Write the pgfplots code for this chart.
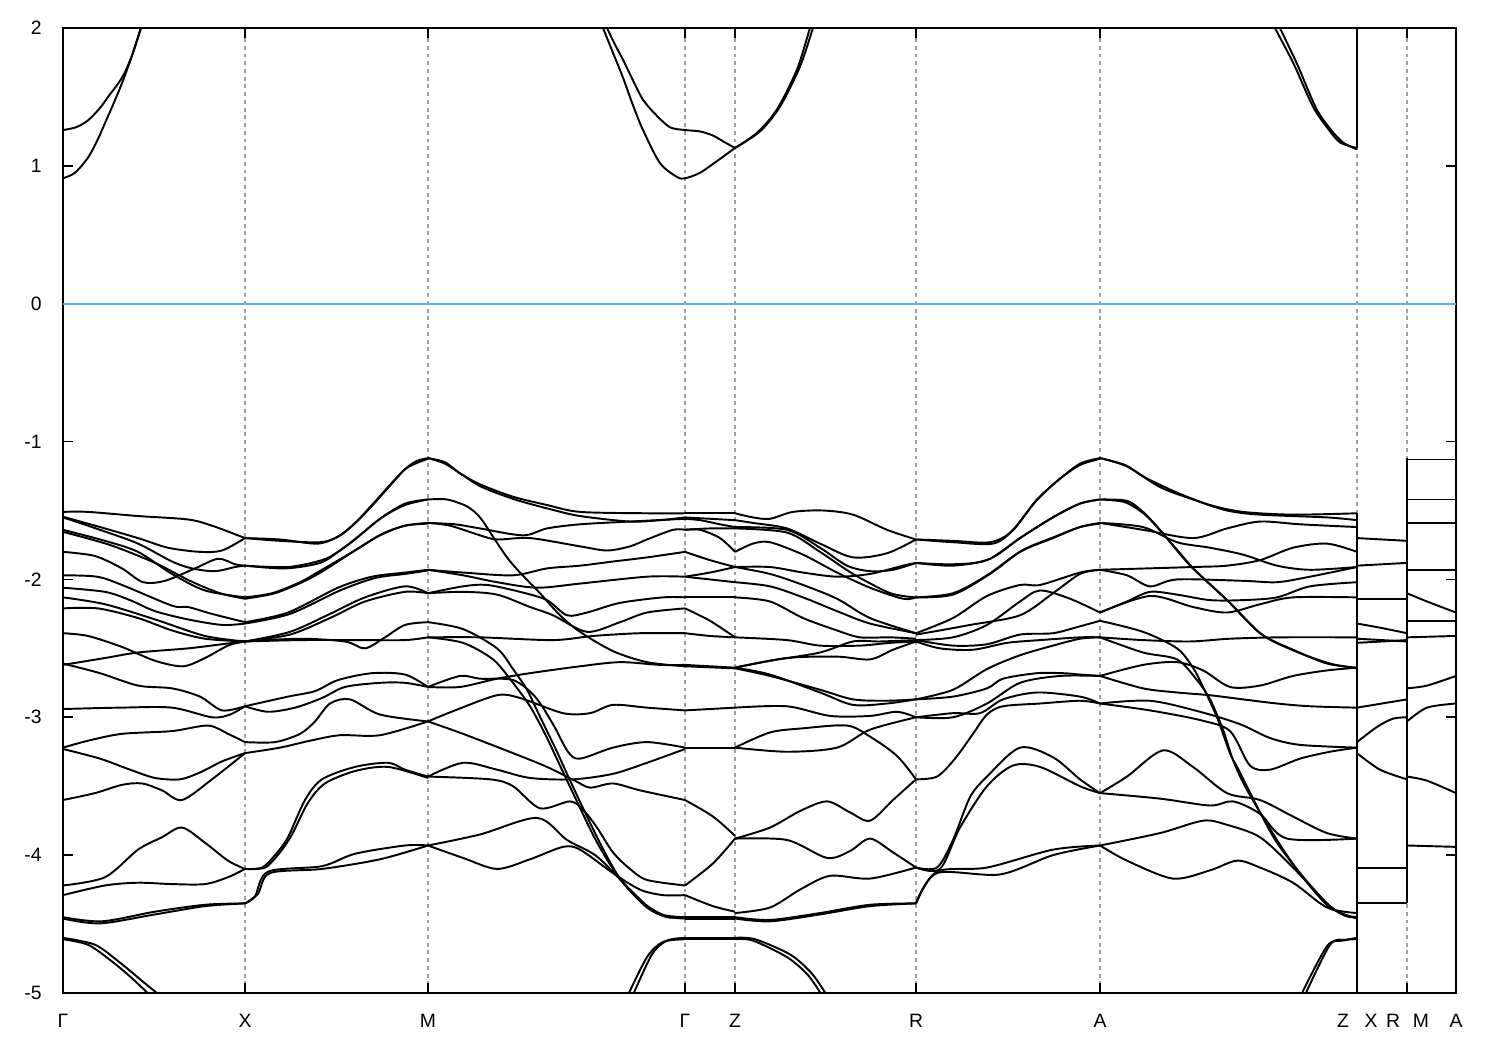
\documentclass[border=0pt]{standalone}
\usepackage{fontspec}
\setmainfont{Liberation Sans}
\usepackage{pgfplots}
\pgfplotsset{compat=1.18}
\definecolor{zeroblue}{HTML}{56B4E9}
\definecolor{gridgray}{HTML}{A0A0A0}
\pgfplotsset{band/.style={black, line width=0.55pt, smooth, tension=0.5, no markers}}
\newcommand{\B}[1]{\addplot[band] coordinates {#1};}
\newcommand{\J}[1]{\addplot[black, line width=0.55pt, no markers] coordinates {#1};}
\begin{document}
\begin{tikzpicture}
\path[use as bounding box] (0,0) rectangle (15cm,10.5cm);
\begin{axis}[
  at={(0.63cm,0.57cm)}, anchor=south west,
  scale only axis, width=13.93cm, height=9.65cm,
  xmin=63, xmax=1456, ymin=-5, ymax=2,
  ytick={-5,-4,-3,-2,-1,0,1,2},
  yticklabels={-5,-4,-3,-2,-1,0,1,2},
  xtick={63,245,428,685,735,916,1100,1357,1407,1456},
  xticklabels={Γ,X,M,Γ,Z,R,A,{\makebox[0.28cm]{Z}\makebox[0.28cm]{X}},{\makebox[0.28cm]{R}\makebox[0.28cm]{M}},A},
  tick label style={font=\fontsize{5.5}{6.5}\selectfont},
  xticklabel style={yshift=-0.09cm},
  yticklabel style={xshift=-0.09cm},
  tick align=inside, xtick pos=both, ytick pos=both,
  major tick length=0.1cm,
  tick style={black, line width=0.5pt},
  axis line style={black, line width=0.6pt},
  xmajorgrids, major x grid style={gridgray, line width=0.3pt, dash pattern=on 1.1pt off 1.1pt},
  clip=true,
]
\addplot[zeroblue, line width=0.45pt] coordinates {(63,0)(1456,0)};
% ---------------- G - X
\B{(63,1.26)(76,1.28)(88,1.33)(100,1.42)(108,1.50)(122,1.64)(132,1.80)(142,2.02)}
\B{(63,0.91)(75,0.95)(88,1.06)(97,1.18)(105,1.31)(114,1.46)(122,1.60)(132,1.80)(142,2.03)}
\B{(63,-1.51)(88,-1.51)(138,-1.54)(188,-1.565)(212,-1.61)(245,-1.70)}
\B{(63,-1.545)(100,-1.62)(138,-1.70)(168,-1.77)(200,-1.80)(222,-1.79)(245,-1.70)}
\B{(63,-1.55)(100,-1.64)(138,-1.74)(172,-1.87)(192,-1.92)(215,-1.94)(235,-1.91)(245,-1.90)}
\B{(63,-1.80)(95,-1.83)(122,-1.92)(143,-2.02)(165,-2.01)(195,-1.92)(218,-1.85)(235,-1.89)(245,-1.90)}
\B{(63,-1.64)(105,-1.72)(138,-1.80)(172,-1.96)(205,-2.08)(245,-2.13)}
\B{(63,-1.655)(110,-1.75)(155,-1.88)(190,-2.01)(220,-2.10)(245,-2.14)}
\B{(63,-1.97)(97,-1.98)(122,-2.04)(172,-2.19)(188,-2.20)(212,-2.25)(245,-2.31)}
\B{(63,-2.06)(105,-2.09)(130,-2.15)(155,-2.23)(188,-2.29)(222,-2.33)(245,-2.32)}
\B{(63,-2.13)(105,-2.18)(155,-2.29)(205,-2.41)(245,-2.45)}
\B{(63,-2.21)(98,-2.21)(138,-2.28)(172,-2.37)(205,-2.43)(245,-2.45)}
\B{(63,-2.39)(88,-2.41)(122,-2.49)(155,-2.59)(183,-2.63)(205,-2.57)(228,-2.48)(245,-2.45)}
\B{(63,-2.62)(105,-2.57)(138,-2.53)(188,-2.50)(222,-2.47)(245,-2.45)}
\B{(63,-2.61)(100,-2.68)(138,-2.77)(172,-2.79)(200,-2.85)(222,-2.95)(245,-2.92)}
\B{(63,-2.94)(120,-2.93)(172,-2.93)(212,-3.00)(230,-2.98)(245,-2.92)}
\B{(63,-3.22)(88,-3.17)(122,-3.12)(172,-3.10)(208,-3.06)(228,-3.12)(245,-3.18)}
\B{(63,-3.23)(100,-3.30)(130,-3.38)(155,-3.44)(180,-3.45)(200,-3.40)(222,-3.32)(245,-3.26)}
\B{(63,-3.60)(95,-3.55)(122,-3.49)(142,-3.48)(162,-3.53)(182,-3.60)(212,-3.45)(245,-3.26)}
\B{(63,-4.22)(105,-4.16)(138,-3.96)(162,-3.87)(182,-3.80)(205,-3.91)(228,-4.04)(245,-4.10)}
\B{(63,-4.29)(105,-4.22)(138,-4.20)(172,-4.21)(205,-4.21)(228,-4.16)(245,-4.10)}
\B{(63,-4.45)(102,-4.48)(155,-4.41)(205,-4.36)(245,-4.35)}
\B{(63,-4.46)(100,-4.495)(155,-4.43)(205,-4.37)(245,-4.35)}
\B{(63,-4.61)(88,-4.65)(110,-4.76)(130,-4.88)(152,-5.03)}
\B{(63,-4.60)(95,-4.65)(120,-4.78)(145,-4.93)(162,-5.03)}
% ---------------- X - M
\B{(245,-1.70)(280,-1.72)(320,-1.73)(338,-1.69)(355,-1.59)(372,-1.46)(388,-1.33)(405,-1.20)(417,-1.14)(428,-1.12)}
\B{(245,-1.70)(280,-1.71)(318,-1.74)(340,-1.68)(357,-1.58)(374,-1.45)(390,-1.32)(407,-1.19)(428,-1.125)}
\B{(245,-1.90)(288,-1.91)(322,-1.86)(338,-1.80)(355,-1.71)(380,-1.56)(405,-1.45)(428,-1.42)}
\B{(245,-1.90)(285,-1.92)(320,-1.88)(340,-1.79)(358,-1.69)(382,-1.55)(405,-1.46)(428,-1.42)}
\B{(245,-2.13)(272,-2.10)(300,-2.02)(322,-1.93)(355,-1.79)(380,-1.68)(405,-1.61)(428,-1.59)}
\B{(245,-2.14)(275,-2.10)(305,-2.01)(325,-1.93)(357,-1.78)(382,-1.67)(405,-1.61)(428,-1.595)}
\B{(245,-2.31)(288,-2.24)(338,-2.06)(372,-1.98)(405,-1.95)(428,-1.93)}
\B{(245,-2.32)(290,-2.25)(340,-2.08)(375,-1.99)(405,-1.96)(428,-1.935)}
\B{(245,-2.45)(290,-2.38)(330,-2.25)(365,-2.13)(405,-2.05)(428,-2.10)}
\B{(245,-2.45)(290,-2.40)(330,-2.28)(365,-2.16)(405,-2.09)(428,-2.10)}
\B{(245,-2.45)(300,-2.43)(345,-2.45)(365,-2.50)(385,-2.42)(405,-2.33)(428,-2.31)}
\B{(245,-2.45)(300,-2.44)(360,-2.44)(405,-2.44)(428,-2.42)}
\B{(245,-2.92)(288,-2.85)(315,-2.81)(338,-2.73)(372,-2.68)(405,-2.69)(428,-2.78)}
\B{(245,-2.92)(268,-2.96)(295,-2.93)(322,-2.86)(345,-2.78)(380,-2.75)(405,-2.75)(428,-2.78)}
\B{(245,-3.18)(275,-3.18)(300,-3.12)(315,-3.03)(330,-2.90)(350,-2.87)(380,-2.98)(428,-3.03)}
\B{(245,-3.26)(280,-3.22)(310,-3.17)(340,-3.13)(380,-3.13)(428,-3.03)}
\B{(245,-4.10)(262,-4.09)(275,-4.00)(288,-3.87)(305,-3.60)(322,-3.45)(355,-3.36)(388,-3.33)(405,-3.38)(428,-3.43)}
\B{(245,-4.10)(265,-4.09)(280,-3.98)(292,-3.85)(308,-3.62)(325,-3.48)(355,-3.39)(388,-3.36)(428,-3.44)}
\B{(245,-4.35)(255,-4.30)(268,-4.12)(322,-4.08)(355,-3.99)(405,-3.93)(428,-3.93)}
\B{(245,-4.35)(258,-4.28)(270,-4.13)(322,-4.10)(380,-4.03)(428,-3.93)}
% ---------------- M - G
\B{(600,2.05)(603,2.0)(613,1.82)(623,1.64)(633,1.44)(643,1.26)(660,1.02)(677,0.92)(685,0.91)(700,0.95)(718,1.04)(735,1.13)}
\B{(604,2.05)(607,2.0)(615,1.88)(623,1.77)(633,1.62)(643,1.48)(656,1.37)(670,1.28)(685,1.26)(700,1.25)(713,1.22)(725,1.17)(735,1.13)}
\B{(428,-1.12)(445,-1.15)(460,-1.23)(480,-1.31)(513,-1.40)(547,-1.46)(580,-1.51)(647,-1.52)(685,-1.52)}
\B{(428,-1.12)(445,-1.16)(462,-1.24)(482,-1.33)(515,-1.42)(550,-1.49)(580,-1.54)(630,-1.58)(660,-1.57)(685,-1.55)}
\B{(428,-1.42)(447,-1.42)(467,-1.47)(480,-1.55)(493,-1.69)(507,-1.84)(520,-1.95)(540,-2.10)(560,-2.26)(580,-2.38)(613,-2.52)(647,-2.60)(685,-2.63)}
\B{(428,-1.59)(450,-1.61)(480,-1.68)(497,-1.71)(530,-1.70)(580,-1.76)(607,-1.79)(630,-1.76)(647,-1.71)(673,-1.64)(685,-1.64)}
\B{(428,-1.59)(455,-1.60)(480,-1.63)(523,-1.68)(547,-1.63)(580,-1.60)(630,-1.58)(685,-1.56)}
\B{(428,-1.93)(463,-1.95)(513,-1.97)(547,-1.92)(580,-1.90)(613,-1.87)(647,-1.84)(685,-1.80)}
\B{(428,-1.93)(463,-1.97)(497,-2.02)(537,-2.06)(580,-2.03)(647,-1.98)(685,-1.98)}
\B{(428,-2.10)(463,-2.05)(487,-2.04)(520,-2.09)(547,-2.15)(567,-2.26)(587,-2.24)(620,-2.17)(663,-2.13)(685,-2.13)}
\B{(428,-2.10)(463,-2.09)(497,-2.11)(530,-2.20)(553,-2.26)(587,-2.38)(620,-2.31)(647,-2.24)(685,-2.21)}
\B{(428,-2.42)(480,-2.42)(553,-2.44)(593,-2.41)(640,-2.39)(685,-2.39)}
\B{(428,-2.31)(463,-2.36)(497,-2.50)(513,-2.65)(527,-2.80)(537,-2.95)(547,-3.10)(557,-3.25)(567,-3.41)(587,-3.72)(607,-4.01)(623,-4.20)(647,-4.38)(667,-4.45)(685,-4.45)}
\B{(428,-2.42)(463,-2.46)(493,-2.58)(513,-2.75)(530,-2.92)(545,-3.12)(560,-3.35)(575,-3.58)(595,-3.88)(615,-4.12)(640,-4.33)(665,-4.44)(685,-4.46)}
\B{(428,-2.78)(460,-2.78)(497,-2.72)(530,-2.68)(580,-2.63)(620,-2.60)(660,-2.62)(685,-2.62)}
\B{(428,-2.78)(460,-2.70)(480,-2.72)(513,-2.73)(535,-2.85)(553,-3.05)(568,-3.25)(580,-3.30)(613,-3.22)(647,-3.18)(685,-3.22)}
\B{(428,-3.03)(455,-2.95)(497,-2.84)(520,-2.86)(563,-2.97)(590,-2.97)(613,-2.91)(647,-2.93)(685,-2.95)}
\B{(428,-3.03)(463,-3.12)(513,-3.26)(547,-3.36)(575,-3.46)(590,-3.51)(613,-3.48)(640,-3.53)(685,-3.60)}
\B{(428,-3.43)(463,-3.33)(497,-3.38)(530,-3.44)(573,-3.45)(613,-3.41)(647,-3.33)(685,-3.23)}
\B{(428,-3.43)(490,-3.45)(513,-3.50)(540,-3.66)(570,-3.61)(583,-3.67)(597,-3.80)(613,-3.98)(630,-4.10)(647,-4.18)(685,-4.22)}
\B{(428,-3.93)(480,-3.85)(537,-3.73)(567,-3.89)(597,-4.01)(630,-4.25)(657,-4.42)(685,-4.45)}
\B{(428,-3.93)(463,-4.02)(497,-4.10)(530,-4.03)(563,-3.94)(580,-3.96)(613,-4.13)(640,-4.25)(663,-4.29)(685,-4.29)}
\B{(627,-5.03)(647,-4.74)(663,-4.63)(685,-4.61)}
\B{(632,-5.03)(652,-4.72)(667,-4.62)(685,-4.60)}
% ---------------- G - Z
\B{(685,-1.52)(710,-1.52)(735,-1.52)}
\B{(685,-1.55)(710,-1.56)(735,-1.57)}
\B{(685,-1.56)(700,-1.57)(720,-1.60)(735,-1.62)}
\B{(685,-1.64)(700,-1.64)(720,-1.70)(735,-1.80)}
\B{(685,-1.64)(710,-1.63)(735,-1.63)}
\B{(685,-1.80)(710,-1.86)(735,-1.91)}
\B{(685,-1.98)(710,-1.95)(735,-1.91)}
\B{(685,-1.98)(710,-2.00)(735,-2.02)}
\B{(685,-2.13)(710,-2.13)(735,-2.13)}
\B{(685,-2.21)(710,-2.30)(735,-2.42)}
\B{(685,-2.39)(710,-2.41)(735,-2.42)}
\B{(685,-2.62)(735,-2.64)}
\B{(685,-2.63)(735,-2.645)}
\B{(685,-2.95)(710,-2.94)(735,-2.93)}
\B{(685,-3.22)(710,-3.22)(735,-3.22)}
\B{(685,-3.60)(713,-3.72)(735,-3.86)}
\B{(685,-4.22)(713,-4.06)(735,-3.88)}
\B{(685,-4.29)(713,-4.37)(735,-4.41)}
\B{(685,-4.45)(710,-4.45)(735,-4.45)}
\B{(685,-4.46)(710,-4.46)(735,-4.46)}
\B{(685,-4.61)(710,-4.61)(735,-4.61)}
\B{(685,-4.60)(710,-4.60)(735,-4.60)}
% ---------------- Z - R
\B{(735,1.13)(757,1.24)(777,1.41)(797,1.70)(810,2.0)(813,2.05)}
\B{(735,1.13)(760,1.25)(780,1.43)(800,1.72)(813,2.0)(816,2.05)}
\B{(735,-1.52)(753,-1.55)(770,-1.56)(793,-1.51)(823,-1.50)(853,-1.53)(887,-1.64)(916,-1.71)}
\B{(735,-1.57)(753,-1.59)(787,-1.63)(820,-1.74)(853,-1.84)(887,-1.81)(916,-1.71)}
\B{(735,-1.62)(787,-1.64)(820,-1.77)(847,-1.90)(870,-1.94)(893,-1.93)(916,-1.88)}
\B{(735,-1.63)(787,-1.66)(820,-1.80)(853,-1.96)(887,-2.09)(903,-2.12)(916,-2.13)}
\B{(735,-1.80)(753,-1.74)(770,-1.73)(803,-1.82)(837,-1.95)(870,-2.06)(903,-2.14)(916,-2.13)}
\B{(735,-1.91)(770,-1.91)(803,-1.95)(837,-1.98)(870,-1.96)(903,-1.90)(916,-1.88)}
\B{(735,-1.91)(770,-1.96)(803,-2.04)(837,-2.14)(870,-2.28)(916,-2.39)}
\B{(735,-2.02)(770,-2.05)(803,-2.13)(837,-2.23)(870,-2.32)(916,-2.39)}
\B{(735,-2.13)(770,-2.16)(803,-2.28)(837,-2.37)(860,-2.42)(890,-2.42)(916,-2.43)}
\B{(735,-2.42)(787,-2.44)(820,-2.48)(860,-2.48)(890,-2.46)(916,-2.45)}
\B{(735,-2.64)(770,-2.59)(820,-2.53)(853,-2.45)(880,-2.45)(916,-2.44)}
\B{(735,-2.64)(787,-2.57)(837,-2.56)(870,-2.58)(893,-2.51)(916,-2.45)}
\B{(735,-2.64)(770,-2.69)(820,-2.82)(853,-2.91)(887,-2.90)(916,-2.87)}
\B{(735,-2.645)(770,-2.70)(820,-2.80)(853,-2.87)(887,-2.88)(916,-2.87)}
\B{(735,-2.93)(787,-2.92)(830,-2.99)(870,-2.99)(897,-2.96)(916,-3.00)}
\B{(735,-3.22)(770,-3.11)(803,-3.08)(847,-3.06)(870,-3.14)(897,-3.28)(916,-3.45)}
\B{(735,-3.22)(787,-3.25)(837,-3.22)(870,-3.09)(916,-3.00)}
\B{(735,-3.88)(770,-3.80)(800,-3.68)(827,-3.61)(850,-3.69)(870,-3.75)(893,-3.60)(916,-3.45)}
\B{(735,-3.88)(787,-3.89)(827,-4.02)(850,-3.97)(870,-3.88)(893,-3.98)(916,-4.09)}
\B{(735,-4.42)(770,-4.38)(800,-4.25)(830,-4.15)(870,-4.17)(916,-4.09)}
\B{(735,-4.45)(770,-4.47)(820,-4.42)(870,-4.36)(916,-4.35)}
\B{(735,-4.46)(770,-4.48)(820,-4.43)(870,-4.37)(916,-4.35)}
\B{(735,-4.61)(753,-4.62)(787,-4.74)(808,-4.87)(823,-5.03)}
\B{(735,-4.60)(755,-4.61)(790,-4.72)(812,-4.86)(828,-5.03)}
% ---------------- R - A
\B{(916,-1.71)(953,-1.73)(993,-1.74)(1013,-1.64)(1037,-1.42)(1060,-1.27)(1080,-1.16)(1100,-1.12)}
\B{(916,-1.71)(953,-1.72)(990,-1.73)(1012,-1.65)(1035,-1.44)(1058,-1.28)(1080,-1.17)(1100,-1.125)}
\B{(916,-1.88)(953,-1.89)(987,-1.86)(1020,-1.70)(1053,-1.55)(1080,-1.45)(1100,-1.42)}
\B{(916,-1.88)(953,-1.90)(990,-1.85)(1022,-1.69)(1055,-1.54)(1080,-1.45)(1100,-1.42)}
\B{(916,-2.13)(953,-2.10)(987,-1.97)(1020,-1.80)(1053,-1.70)(1080,-1.62)(1100,-1.59)}
\B{(916,-2.13)(953,-2.11)(990,-1.96)(1022,-1.79)(1055,-1.69)(1080,-1.62)(1100,-1.595)}
\B{(916,-2.39)(953,-2.28)(987,-2.12)(1020,-2.04)(1040,-2.04)(1080,-1.95)(1100,-1.93)}
\B{(916,-2.40)(940,-2.37)(970,-2.33)(1020,-2.26)(1053,-2.10)(1080,-1.96)(1100,-1.93)}
\B{(916,-2.44)(953,-2.42)(987,-2.33)(1020,-2.16)(1040,-2.08)(1070,-2.14)(1100,-2.24)}
\B{(916,-2.44)(953,-2.48)(987,-2.47)(1020,-2.40)(1053,-2.39)(1080,-2.34)(1100,-2.30)}
\B{(916,-2.45)(940,-2.50)(973,-2.51)(1007,-2.46)(1040,-2.44)(1080,-2.42)(1100,-2.42)}
\B{(916,-2.87)(953,-2.85)(987,-2.79)(1003,-2.72)(1037,-2.68)(1063,-2.68)(1080,-2.69)(1100,-2.70)}
\B{(916,-2.87)(953,-2.80)(987,-2.65)(1020,-2.55)(1053,-2.48)(1080,-2.43)(1100,-2.42)}
\B{(916,-3.00)(953,-2.97)(980,-2.97)(1003,-2.87)(1037,-2.82)(1080,-2.85)(1100,-2.90)}
\B{(916,-3.00)(953,-3.00)(987,-2.90)(1020,-2.75)(1060,-2.70)(1100,-2.70)}
\B{(916,-3.45)(937,-3.43)(955,-3.30)(973,-3.12)(987,-2.98)(1003,-2.92)(1040,-2.90)(1080,-2.88)(1100,-2.90)}
\B{(916,-4.09)(937,-4.09)(953,-3.89)(970,-3.58)(987,-3.43)(1020,-3.22)(1053,-3.29)(1080,-3.45)(1100,-3.55)}
\B{(916,-4.09)(940,-4.10)(960,-3.80)(987,-3.50)(1013,-3.35)(1040,-3.36)(1080,-3.50)(1100,-3.55)}
\B{(916,-4.35)(937,-4.12)(987,-4.09)(1053,-3.96)(1100,-3.93)}
\B{(916,-4.35)(937,-4.13)(1000,-4.14)(1053,-4.00)(1100,-3.93)}
% ---------------- A - Z
\B{(1273,2.05)(1275,2.0)(1293,1.75)(1313,1.43)(1327,1.28)(1340,1.17)(1357,1.13)}
\B{(1278,2.05)(1280,2.0)(1297,1.74)(1316,1.42)(1330,1.27)(1343,1.17)(1357,1.12)}
\B{(1100,-1.12)(1127,-1.18)(1160,-1.33)(1193,-1.42)(1227,-1.50)(1260,-1.53)(1327,-1.55)(1357,-1.57)}
\B{(1100,-1.12)(1125,-1.17)(1145,-1.26)(1177,-1.37)(1210,-1.46)(1243,-1.51)(1293,-1.53)(1357,-1.52)}
\B{(1100,-1.42)(1127,-1.43)(1143,-1.51)(1160,-1.64)(1177,-1.79)(1193,-1.92)(1227,-2.15)(1260,-2.39)(1293,-2.51)(1327,-2.61)(1357,-2.64)}
\B{(1100,-1.42)(1125,-1.44)(1145,-1.53)(1162,-1.66)(1180,-1.81)(1196,-1.94)(1230,-2.17)(1262,-2.40)(1295,-2.52)(1330,-2.61)(1357,-2.645)}
\B{(1100,-1.59)(1143,-1.64)(1193,-1.70)(1227,-1.63)(1260,-1.58)(1300,-1.60)(1357,-1.62)}
\B{(1100,-1.59)(1143,-1.62)(1177,-1.73)(1210,-1.77)(1243,-1.82)(1277,-1.90)(1310,-1.93)(1357,-1.91)}
\B{(1100,-1.93)(1193,-1.91)(1227,-1.90)(1260,-1.86)(1293,-1.77)(1327,-1.74)(1357,-1.80)}
\B{(1100,-1.93)(1127,-1.97)(1150,-2.05)(1177,-2.00)(1243,-2.01)(1277,-2.02)(1310,-1.98)(1357,-1.91)}
\B{(1100,-2.24)(1127,-2.16)(1150,-2.09)(1177,-2.11)(1210,-2.15)(1243,-2.15)(1277,-2.13)(1310,-2.05)(1357,-2.02)}
\B{(1100,-2.24)(1150,-2.12)(1193,-2.20)(1227,-2.24)(1260,-2.18)(1293,-2.13)(1357,-2.13)}
\B{(1100,-2.30)(1143,-2.38)(1177,-2.50)(1193,-2.64)(1203,-2.78)(1217,-3.00)(1230,-3.26)(1240,-3.40)(1260,-3.69)(1277,-3.91)(1300,-4.13)(1327,-4.35)(1343,-4.43)(1357,-4.45)}
\B{(1100,-2.42)(1143,-2.53)(1177,-2.58)(1197,-2.73)(1210,-2.87)(1223,-3.09)(1233,-3.31)(1245,-3.50)(1265,-3.75)(1285,-3.98)(1305,-4.18)(1330,-4.38)(1357,-4.46)}
\B{(1100,-2.42)(1143,-2.44)(1190,-2.45)(1230,-2.43)(1280,-2.42)(1357,-2.42)}
\B{(1100,-2.70)(1143,-2.79)(1177,-2.82)(1210,-2.84)(1243,-2.87)(1277,-2.90)(1310,-2.92)(1357,-2.93)}
\B{(1100,-2.70)(1143,-2.62)(1177,-2.60)(1203,-2.66)(1230,-2.78)(1260,-2.77)(1293,-2.70)(1327,-2.66)(1357,-2.64)}
\B{(1100,-2.90)(1150,-2.95)(1200,-3.02)(1230,-3.10)(1250,-3.35)(1270,-3.38)(1300,-3.30)(1330,-3.25)(1357,-3.22)}
\B{(1100,-2.90)(1150,-2.88)(1200,-2.96)(1240,-3.05)(1270,-3.15)(1300,-3.20)(1357,-3.22)}
\B{(1100,-3.55)(1127,-3.43)(1163,-3.24)(1193,-3.36)(1227,-3.55)(1260,-3.60)(1293,-3.72)(1327,-3.84)(1357,-3.88)}
\B{(1100,-3.55)(1160,-3.59)(1210,-3.64)(1233,-3.61)(1260,-3.70)(1287,-3.88)(1357,-3.88)}
\B{(1100,-3.93)(1160,-3.84)(1203,-3.75)(1227,-3.78)(1260,-3.87)(1293,-4.09)(1327,-4.35)(1345,-4.44)(1357,-4.45)}
\B{(1100,-3.93)(1127,-4.04)(1173,-4.17)(1210,-4.11)(1237,-4.04)(1260,-4.09)(1293,-4.20)(1327,-4.38)(1357,-4.42)}
\B{(1300,-5.03)(1327,-4.66)(1343,-4.62)(1357,-4.60)}
\B{(1304,-5.03)(1330,-4.65)(1345,-4.615)(1357,-4.61)}
% ---------------- jumps
\J{(1357,1.13)(1357,2.1)}
\J{(1357,-1.52)(1357,-5.1)}
\J{(1407,-1.12)(1407,-4.35)}
% ---------------- X - R (flat)
\B{(1357,-1.70)(1407,-1.72)}
\B{(1357,-1.90)(1407,-1.88)}
\B{(1357,-2.14)(1407,-2.14)}
\B{(1357,-2.32)(1380,-2.35)(1407,-2.39)}
\B{(1357,-2.43)(1407,-2.45)}
\B{(1357,-2.46)(1407,-2.44)}
\B{(1357,-2.93)(1407,-2.87)}
\B{(1357,-3.18)(1377,-3.07)(1393,-3.01)(1407,-3.00)}
\B{(1357,-3.26)(1380,-3.38)(1407,-3.45)}
\B{(1357,-4.09)(1407,-4.09)}
\B{(1357,-4.35)(1407,-4.35)}
% ---------------- M - A (flat)
\B{(1407,-1.13)(1456,-1.13)}
\B{(1407,-1.42)(1456,-1.42)}
\B{(1407,-1.59)(1456,-1.59)}
\B{(1407,-1.93)(1456,-1.93)}
\B{(1407,-2.10)(1427,-2.16)(1456,-2.24)}
\B{(1407,-2.30)(1456,-2.30)}
\B{(1407,-2.42)(1456,-2.41)}
\B{(1407,-2.79)(1427,-2.77)(1456,-2.70)}
\B{(1407,-3.03)(1427,-2.93)(1456,-2.90)}
\B{(1407,-3.43)(1427,-3.46)(1456,-3.55)}
\B{(1407,-3.93)(1456,-3.94)}
\end{axis}
\end{tikzpicture}
\end{document}
